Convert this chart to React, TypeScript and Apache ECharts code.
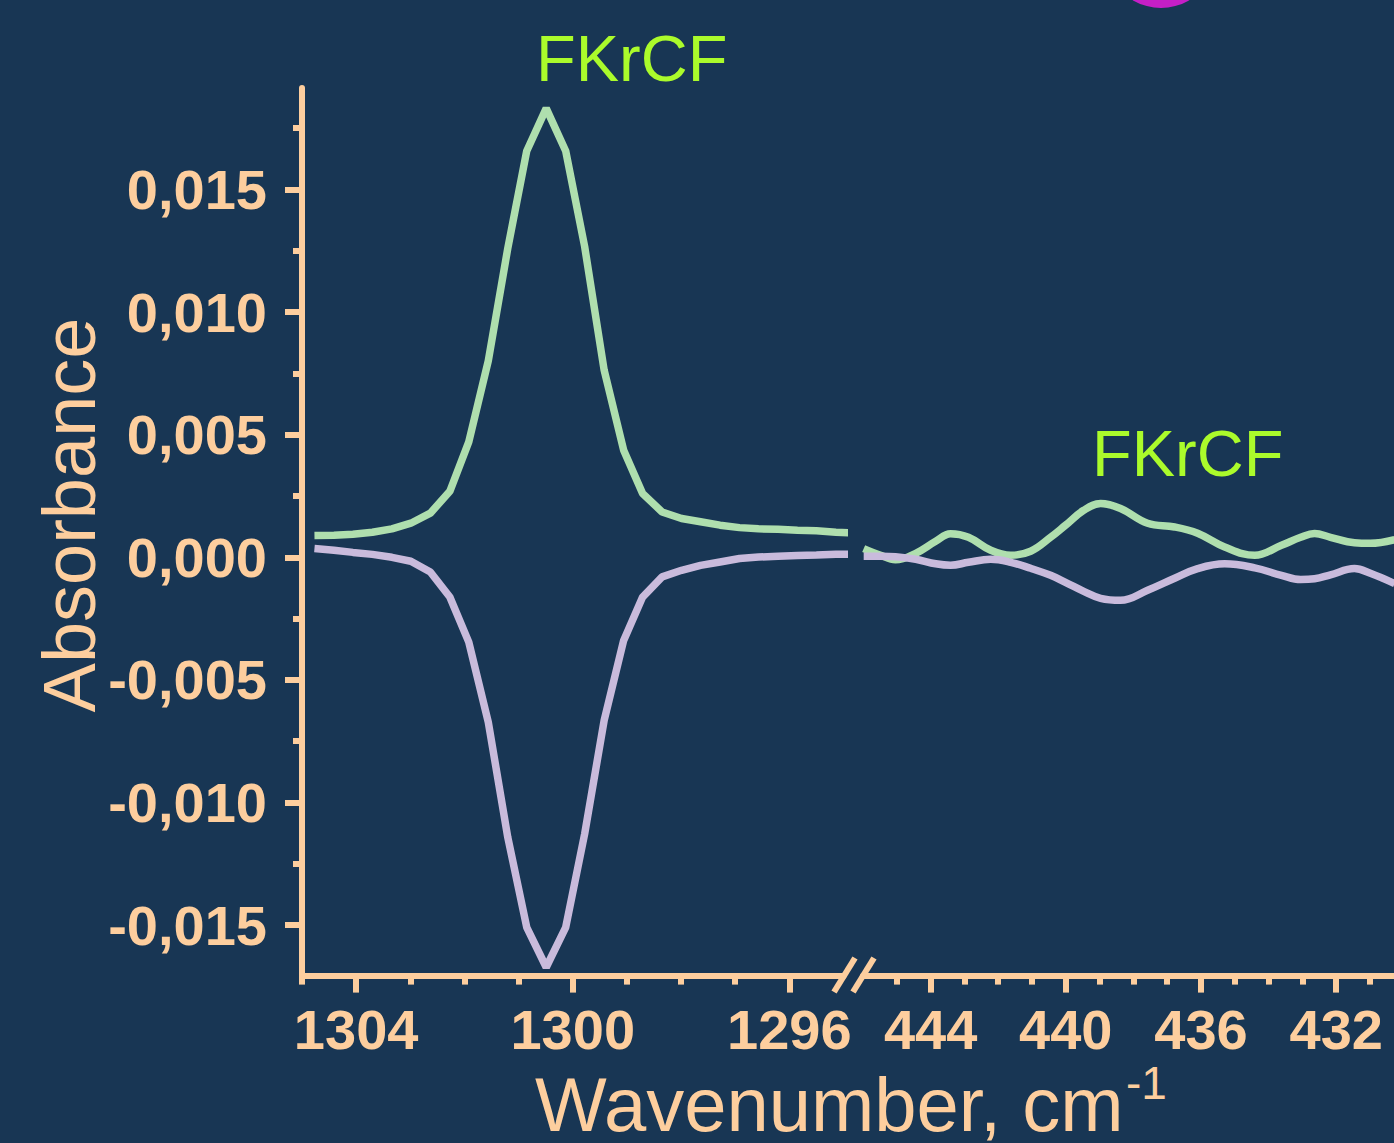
import React, { useEffect, useRef } from "react";
import * as echarts from "echarts";

// ---- Data ----
const leftWavenumbers = [
  1304.77, 1304.41, 1304.06, 1303.7, 1303.34, 1302.99, 1302.63, 1302.27, 1301.92, 1301.56,
  1301.2, 1300.85, 1300.49, 1300.13, 1299.78, 1299.42, 1299.06, 1298.71, 1298.35, 1297.99,
  1297.64, 1297.28, 1296.92, 1296.57, 1296.21, 1295.85, 1295.5, 1295.14, 1294.78,
];
const leftGreen = [
  0.00089, 0.0009, 0.00094, 0.00102, 0.00116, 0.00139, 0.0018, 0.00269, 0.00471, 0.00801,
  0.0126, 0.01657, 0.01831, 0.01657, 0.01267, 0.00763, 0.00437, 0.0026, 0.00185, 0.00158,
  0.00145, 0.00131, 0.00121, 0.00116, 0.00114, 0.0011, 0.00108, 0.00102, 0.00099,
];
const leftPurple = [
  0.00036, 0.00029, 0.0002, 0.00012, 0.0, -0.00016, -0.0006, -0.00162, -0.00346, -0.00672,
  -0.01142, -0.01509, -0.01672, -0.01509, -0.01128, -0.00665, -0.00339, -0.00162, -0.0008, -0.00053,
  -0.00033, -0.00019, -0.00005, 0.00001, 0.00004, 0.00007, 0.00009, 0.00012, 0.00013,
];

const rightWavenumbers = [
  445.98, 445.48, 445.04, 444.44, 443.85, 443.41, 442.88, 442.22, 441.63, 441.04,
  440.45, 440.01, 439.47, 438.97, 438.38, 437.58, 436.78, 436.1, 435.3, 434.41,
  433.62, 433.05, 432.64, 432.17, 431.46, 430.99, 430.27,
];
const rightGreen = [
  0.000355, 0.000082, -0.000102, 0.000163, 0.000653, 0.000959, 0.000816, 0.000286, 0.000082, 0.000245,
  0.000816, 0.001306, 0.001918, 0.002192, 0.001988, 0.001388, 0.001237, 0.00098, 0.00042, 0.000082,
  0.00049, 0.000816, 0.000967, 0.000816, 0.000592, 0.000571, 0.000722,
];
const rightPurple = [
  0.000041, 0.000041, 0.00002, -0.000082, -0.000265, -0.000327, -0.000204, -0.000082, -0.000204, -0.000449,
  -0.000735, -0.00102, -0.001388, -0.001673, -0.001755, -0.001347, -0.000857, -0.000461, -0.000265, -0.000429,
  -0.000735, -0.00091, -0.000878, -0.000714, -0.000461, -0.000653, -0.001073,
];

const leftMajorTicks = [1304, 1300, 1296];
const leftMinorTicks = [1305, 1303, 1302, 1301, 1299, 1298, 1297];
const rightMajorTicks = [444, 440, 436, 432];
const rightMinorTicks = [445, 443, 442, 441, 439, 438, 437, 435, 434, 433, 431];
const yMajorTicks = [0.015, 0.01, 0.005, 0, -0.005, -0.01, -0.015];
const yMinorTicks = [0.0175, 0.0125, 0.0075, 0.0025, -0.0025, -0.0075, -0.0125];

const labelText = "FKrCF";
const xTitle = "Wavenumber, cm";
const xTitleSup = "-1";
const yTitle = "Absorbance";

// ---- Styles ----
const BG = "#183654";
const AXIS = "#fdce9e";
const GREEN = "#afdfae";
const PURPLE = "#c9bbdc";
const LABEL_GREEN = "#abfb2b";
const FONT = "'Liberation Sans', Arial, Helvetica, sans-serif";

const Y_MIN = -0.01706;
const Y_MAX = 0.01914;

const zip = (xs: number[], ys: number[]) => xs.map((x, i) => [x, ys[i]]);

export default function App() {
  const ref = useRef<HTMLDivElement>(null);

  useEffect(() => {
    if (!ref.current) return;
    const chart = echarts.init(ref.current, null, { renderer: "svg" });

    const lineStyle = { color: AXIS, width: 6 };
    const tickLabel = {
      color: AXIS,
      fontFamily: FONT,
      fontWeight: "bold" as const,
      fontSize: 56,
    };

    const xMinorAxis = (grid: number, min: number, max: number, minor: number[]) => ({
      type: "value",
      gridIndex: grid,
      min,
      max,
      inverse: true,
      position: "bottom",
      axisLine: { show: true, onZero: false, lineStyle },
      axisTick: { show: true, customValues: minor, length: 9, lineStyle },
      axisLabel: { show: false },
      splitLine: { show: false },
    });
    const xMajorAxis = (grid: number, min: number, max: number, major: number[]) => ({
      type: "value",
      gridIndex: grid,
      min,
      max,
      inverse: true,
      position: "bottom",
      axisLine: { show: false, onZero: false },
      axisTick: { show: true, customValues: major, length: 17, lineStyle },
      axisLabel: {
        show: true,
        customValues: major,
        margin: 26,
        ...tickLabel,
        formatter: (v: number) => String(Math.round(v)),
      },
      splitLine: { show: false },
    });

    const textStyle = (text: string, fill: string, fontSize: number, align: string) => ({
      text,
      fill,
      fontSize,
      lineHeight: fontSize,
      fontFamily: FONT,
      align,
      textAlign: align,
      verticalAlign: "middle",
      textVerticalAlign: "middle",
    });

    const option: any = {
      backgroundColor: BG,
      animation: false,
      grid: [
        { left: 302, top: 88, width: 541.5, height: 887.6 },
        { left: 863, top: 88, width: 540.8, height: 887.6 },
      ],
      xAxis: [
        xMinorAxis(0, 1295, 1305, leftMinorTicks),
        xMajorAxis(0, 1295, 1305, leftMajorTicks),
        xMinorAxis(1, 430, 446, rightMinorTicks),
        xMajorAxis(1, 430, 446, rightMajorTicks),
      ],
      yAxis: [
        {
          type: "value",
          gridIndex: 0,
          min: Y_MIN,
          max: Y_MAX,
          position: "left",
          axisLine: { show: true, onZero: false, lineStyle },
          axisTick: { show: true, customValues: yMinorTicks, length: 9, lineStyle },
          axisLabel: { show: false },
          splitLine: { show: false },
        },
        {
          type: "value",
          gridIndex: 0,
          min: Y_MIN,
          max: Y_MAX,
          position: "left",
          axisLine: { show: false, onZero: false },
          axisTick: { show: true, customValues: yMajorTicks, length: 17, lineStyle },
          axisLabel: {
            show: true,
            customValues: yMajorTicks,
            margin: 35,
            ...tickLabel,
            formatter: (v: number) => (Math.abs(v) < 1e-9 ? "0,000" : v.toFixed(3).replace(".", ",")),
          },
          splitLine: { show: false },
        },
        {
          type: "value",
          gridIndex: 1,
          min: Y_MIN,
          max: Y_MAX,
          show: false,
          splitLine: { show: false },
        },
      ],
      series: [
        {
          type: "line",
          xAxisIndex: 0,
          yAxisIndex: 0,
          data: zip(leftWavenumbers, leftGreen),
          showSymbol: false,
          lineStyle: { color: GREEN, width: 7.5 },
        },
        {
          type: "line",
          xAxisIndex: 0,
          yAxisIndex: 0,
          data: zip(leftWavenumbers, leftPurple),
          showSymbol: false,
          lineStyle: { color: PURPLE, width: 7.5 },
        },
        {
          type: "line",
          xAxisIndex: 2,
          yAxisIndex: 2,
          data: zip(rightWavenumbers, rightGreen),
          showSymbol: false,
          smooth: 0.4,
          lineStyle: { color: GREEN, width: 7.5 },
        },
        {
          type: "line",
          xAxisIndex: 2,
          yAxisIndex: 2,
          data: zip(rightWavenumbers, rightPurple),
          showSymbol: false,
          smooth: 0.4,
          lineStyle: { color: PURPLE, width: 7.5 },
        },
      ],
      graphic: [
        {
          type: "circle",
          shape: { cx: 1161, cy: -47, r: 55 },
          style: { fill: "#c51fc6" },
        },
        {
          type: "line",
          shape: { x1: 834, y1: 992, x2: 855, y2: 958 },
          style: { stroke: AXIS, lineWidth: 6 },
        },
        {
          type: "line",
          shape: { x1: 853, y1: 992, x2: 874, y2: 958 },
          style: { stroke: AXIS, lineWidth: 6 },
        },
        { type: "text", x: 536, y: 58, style: textStyle(labelText, LABEL_GREEN, 65, "left") },
        { type: "text", x: 1092, y: 453, style: textStyle(labelText, LABEL_GREEN, 65, "left") },
        { type: "text", x: 535, y: 1104, style: textStyle(xTitle, AXIS, 76, "left") },
        { type: "text", x: 1126, y: 1083, style: textStyle(xTitleSup, AXIS, 46, "left") },
        {
          type: "text",
          x: 69,
          y: 515,
          rotation: Math.PI / 2,
          style: textStyle(yTitle, AXIS, 74, "center"),
        },
      ],
    };

    chart.setOption(option);
    return () => chart.dispose();
  }, []);

  return (
    <div
      style={{
        position: "fixed",
        left: 0,
        top: 0,
        width: 1394,
        height: 1143,
        overflow: "hidden",
        background: BG,
      }}
    >
      <div ref={ref} style={{ width: 1420, height: 1143 }} />
    </div>
  );
}
